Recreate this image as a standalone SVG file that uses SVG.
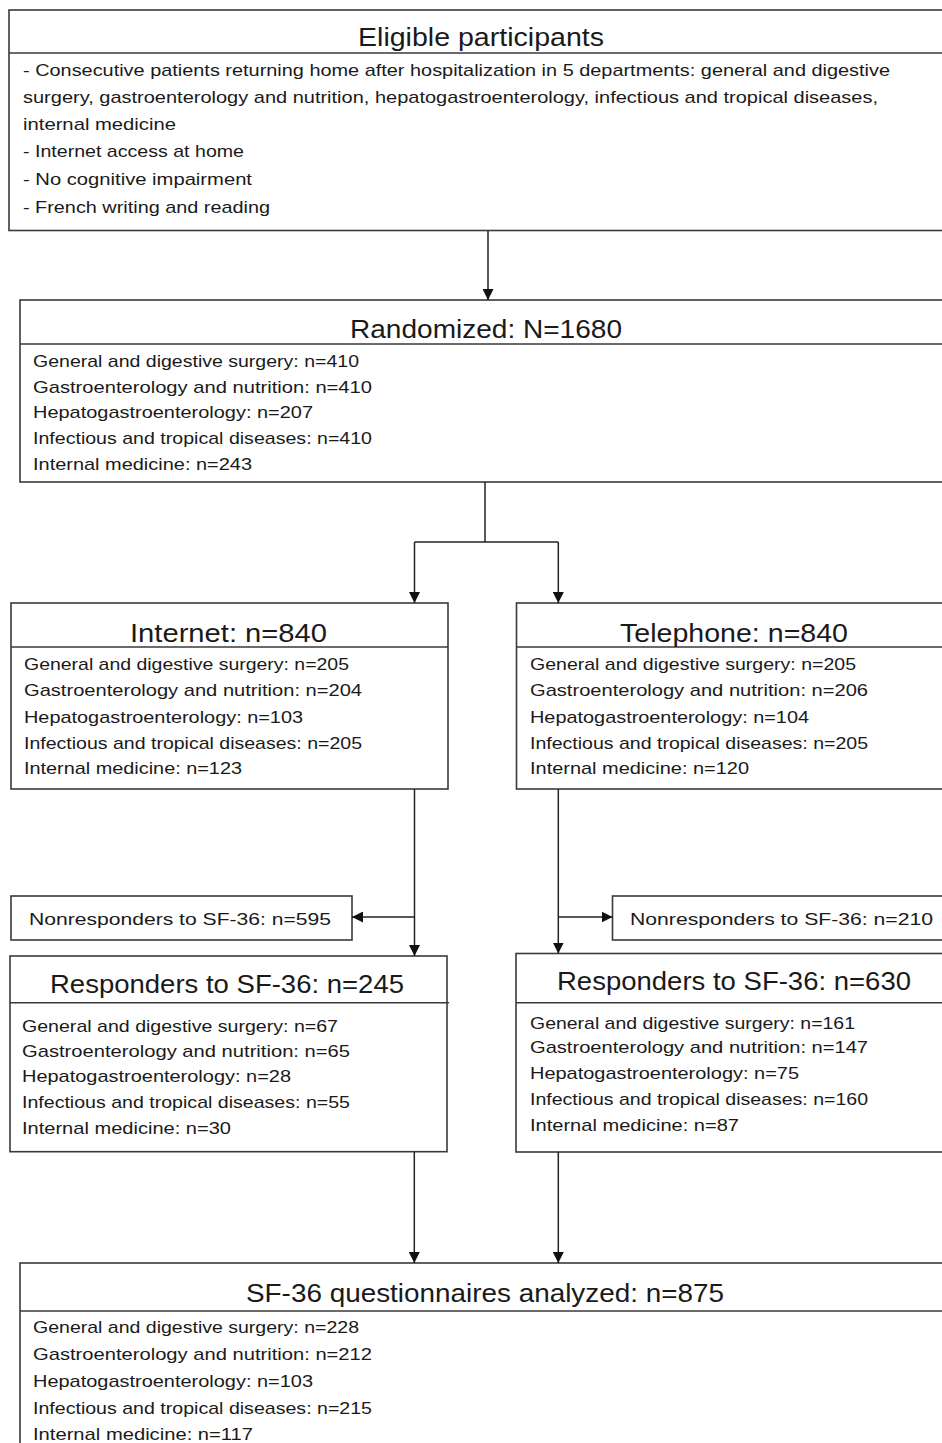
<svg xmlns="http://www.w3.org/2000/svg" width="942" height="1443" viewBox="0 0 942 1443">
  <style>
    .box { fill: #ffffff; stroke: #3a3a3a; stroke-width: 1.6; }
    .sep { stroke: #3a3a3a; stroke-width: 1.6; }
    .title { font-family: "Liberation Sans", Arial, sans-serif; font-size: 26px; fill: #1a1a1a; }
    .body { font-family: "Liberation Sans", Arial, sans-serif; font-size: 17px; fill: #1a1a1a; }
    .conn { fill: none; stroke: #222222; stroke-width: 1.5; }
    .arr { marker-end: url(#ah); }
  </style>
  <defs>
    <marker id="ah" markerUnits="userSpaceOnUse" markerWidth="11" markerHeight="11" viewBox="0 0 10 10" refX="10" refY="5" orient="auto">
      <path d="M0,0 L10,5 L0,10 z" fill="#111111"/>
    </marker>
  </defs>
  <rect width="942" height="1443" fill="#ffffff"/>

  <g id="eligible">
    <rect class="box" x="9" y="10" width="945" height="220.5"/>
    <line class="sep" x1="9" y1="53" x2="942" y2="53"/>
    <text class="title" x="358" y="46" textLength="246" lengthAdjust="spacingAndGlyphs">Eligible participants</text>
    <text class="body" x="23" y="76" textLength="867" lengthAdjust="spacingAndGlyphs">- Consecutive patients returning home after hospitalization in 5 departments: general and digestive</text>
    <text class="body" x="23" y="103" textLength="855" lengthAdjust="spacingAndGlyphs">surgery, gastroenterology and nutrition, hepatogastroenterology, infectious and tropical diseases,</text>
    <text class="body" x="23" y="130" textLength="153" lengthAdjust="spacingAndGlyphs">internal medicine</text>
    <text class="body" x="23" y="157" textLength="221" lengthAdjust="spacingAndGlyphs">- Internet access at home</text>
    <text class="body" x="23" y="185" textLength="229" lengthAdjust="spacingAndGlyphs">- No cognitive impairment</text>
    <text class="body" x="23" y="213" textLength="247" lengthAdjust="spacingAndGlyphs">- French writing and reading</text>
  </g>

  <g id="randomized">
    <rect class="box" x="20" y="300" width="935" height="182"/>
    <line class="sep" x1="20" y1="344" x2="942" y2="344"/>
    <text class="title" x="350" y="338" textLength="272" lengthAdjust="spacingAndGlyphs">Randomized: N=1680</text>
    <text class="body" x="33" y="367" textLength="326" lengthAdjust="spacingAndGlyphs">General and digestive surgery: n=410</text>
    <text class="body" x="33" y="392.5" textLength="339" lengthAdjust="spacingAndGlyphs">Gastroenterology and nutrition: n=410</text>
    <text class="body" x="33" y="418" textLength="280" lengthAdjust="spacingAndGlyphs">Hepatogastroenterology: n=207</text>
    <text class="body" x="33" y="444" textLength="339" lengthAdjust="spacingAndGlyphs">Infectious and tropical diseases: n=410</text>
    <text class="body" x="33" y="470" textLength="219" lengthAdjust="spacingAndGlyphs">Internal medicine: n=243</text>
  </g>

  <g id="internet">
    <rect class="box" x="11" y="603" width="437" height="186"/>
    <line class="sep" x1="11" y1="647" x2="448" y2="647"/>
    <text class="title" x="130" y="642" textLength="197" lengthAdjust="spacingAndGlyphs">Internet: n=840</text>
    <text class="body" x="24" y="670" textLength="325" lengthAdjust="spacingAndGlyphs">General and digestive surgery: n=205</text>
    <text class="body" x="24" y="696" textLength="338" lengthAdjust="spacingAndGlyphs">Gastroenterology and nutrition: n=204</text>
    <text class="body" x="24" y="722.5" textLength="279" lengthAdjust="spacingAndGlyphs">Hepatogastroenterology: n=103</text>
    <text class="body" x="24" y="748.5" textLength="338" lengthAdjust="spacingAndGlyphs">Infectious and tropical diseases: n=205</text>
    <text class="body" x="24" y="774" textLength="218" lengthAdjust="spacingAndGlyphs">Internal medicine: n=123</text>
  </g>

  <g id="telephone">
    <rect class="box" x="516.5" y="603" width="440" height="186"/>
    <line class="sep" x1="516.5" y1="647" x2="942" y2="647"/>
    <text class="title" x="620" y="642" textLength="228" lengthAdjust="spacingAndGlyphs">Telephone: n=840</text>
    <text class="body" x="530" y="670" textLength="326" lengthAdjust="spacingAndGlyphs">General and digestive surgery: n=205</text>
    <text class="body" x="530" y="696" textLength="338" lengthAdjust="spacingAndGlyphs">Gastroenterology and nutrition: n=206</text>
    <text class="body" x="530" y="722.5" textLength="279" lengthAdjust="spacingAndGlyphs">Hepatogastroenterology: n=104</text>
    <text class="body" x="530" y="748.5" textLength="338" lengthAdjust="spacingAndGlyphs">Infectious and tropical diseases: n=205</text>
    <text class="body" x="530" y="774" textLength="219" lengthAdjust="spacingAndGlyphs">Internal medicine: n=120</text>
  </g>

  <g id="nonresp-internet">
    <rect class="box" x="11" y="896" width="341" height="44"/>
    <text class="body" x="29" y="925" textLength="302" lengthAdjust="spacingAndGlyphs">Nonresponders to SF-36: n=595</text>
  </g>

  <g id="nonresp-telephone">
    <rect class="box" x="612.5" y="896" width="345" height="44"/>
    <text class="body" x="630" y="925" textLength="303" lengthAdjust="spacingAndGlyphs">Nonresponders to SF-36: n=210</text>
  </g>

  <g id="resp-internet">
    <rect class="box" x="10" y="956" width="437" height="195.7"/>
    <line class="sep" x1="10" y1="1002.7" x2="449" y2="1002.7"/>
    <text class="title" x="50" y="993" textLength="354" lengthAdjust="spacingAndGlyphs">Responders to SF-36: n=245</text>
    <text class="body" x="22" y="1031.7" textLength="316" lengthAdjust="spacingAndGlyphs">General and digestive surgery: n=67</text>
    <text class="body" x="22" y="1056.7" textLength="328" lengthAdjust="spacingAndGlyphs">Gastroenterology and nutrition: n=65</text>
    <text class="body" x="22" y="1082" textLength="269" lengthAdjust="spacingAndGlyphs">Hepatogastroenterology: n=28</text>
    <text class="body" x="22" y="1108" textLength="328" lengthAdjust="spacingAndGlyphs">Infectious and tropical diseases: n=55</text>
    <text class="body" x="22" y="1134" textLength="209" lengthAdjust="spacingAndGlyphs">Internal medicine: n=30</text>
  </g>

  <g id="resp-telephone">
    <rect class="box" x="516" y="953.5" width="440" height="198.5"/>
    <line class="sep" x1="516" y1="1002.7" x2="942" y2="1002.7"/>
    <text class="title" x="557" y="990" textLength="354" lengthAdjust="spacingAndGlyphs">Responders to SF-36: n=630</text>
    <text class="body" x="530" y="1029" textLength="325" lengthAdjust="spacingAndGlyphs">General and digestive surgery: n=161</text>
    <text class="body" x="530" y="1053" textLength="338" lengthAdjust="spacingAndGlyphs">Gastroenterology and nutrition: n=147</text>
    <text class="body" x="530" y="1079" textLength="269" lengthAdjust="spacingAndGlyphs">Hepatogastroenterology: n=75</text>
    <text class="body" x="530" y="1105" textLength="338" lengthAdjust="spacingAndGlyphs">Infectious and tropical diseases: n=160</text>
    <text class="body" x="530" y="1130.7" textLength="209" lengthAdjust="spacingAndGlyphs">Internal medicine: n=87</text>
  </g>

  <g id="analyzed">
    <rect class="box" x="20" y="1263" width="935" height="200"/>
    <line class="sep" x1="20" y1="1311" x2="942" y2="1311"/>
    <text class="title" x="246" y="1301.7" textLength="478" lengthAdjust="spacingAndGlyphs">SF-36 questionnaires analyzed: n=875</text>
    <text class="body" x="33" y="1333" textLength="326" lengthAdjust="spacingAndGlyphs">General and digestive surgery: n=228</text>
    <text class="body" x="33" y="1360" textLength="339" lengthAdjust="spacingAndGlyphs">Gastroenterology and nutrition: n=212</text>
    <text class="body" x="33" y="1387" textLength="280" lengthAdjust="spacingAndGlyphs">Hepatogastroenterology: n=103</text>
    <text class="body" x="33" y="1414" textLength="339" lengthAdjust="spacingAndGlyphs">Infectious and tropical diseases: n=215</text>
    <text class="body" x="33" y="1440" textLength="220" lengthAdjust="spacingAndGlyphs">Internal medicine: n=117</text>
  </g>

  <g id="connectors">
    <line class="conn arr" x1="488" y1="231" x2="488" y2="300"/>
    <polyline class="conn" points="485,482 485,542"/>
    <polyline class="conn" points="414.5,542 558.3,542"/>
    <line class="conn arr" x1="414.5" y1="542" x2="414.5" y2="603"/>
    <line class="conn arr" x1="558.3" y1="542" x2="558.3" y2="603"/>
    <line class="conn arr" x1="414.5" y1="789" x2="414.5" y2="956"/>
    <line class="conn arr" x1="414.5" y1="917" x2="352" y2="917"/>
    <line class="conn arr" x1="558.3" y1="789" x2="558.3" y2="953.5"/>
    <line class="conn arr" x1="558.3" y1="917" x2="612.5" y2="917"/>
    <line class="conn arr" x1="414.3" y1="1152" x2="414.3" y2="1263"/>
    <line class="conn arr" x1="558.3" y1="1152" x2="558.3" y2="1263"/>
  </g>
</svg>
